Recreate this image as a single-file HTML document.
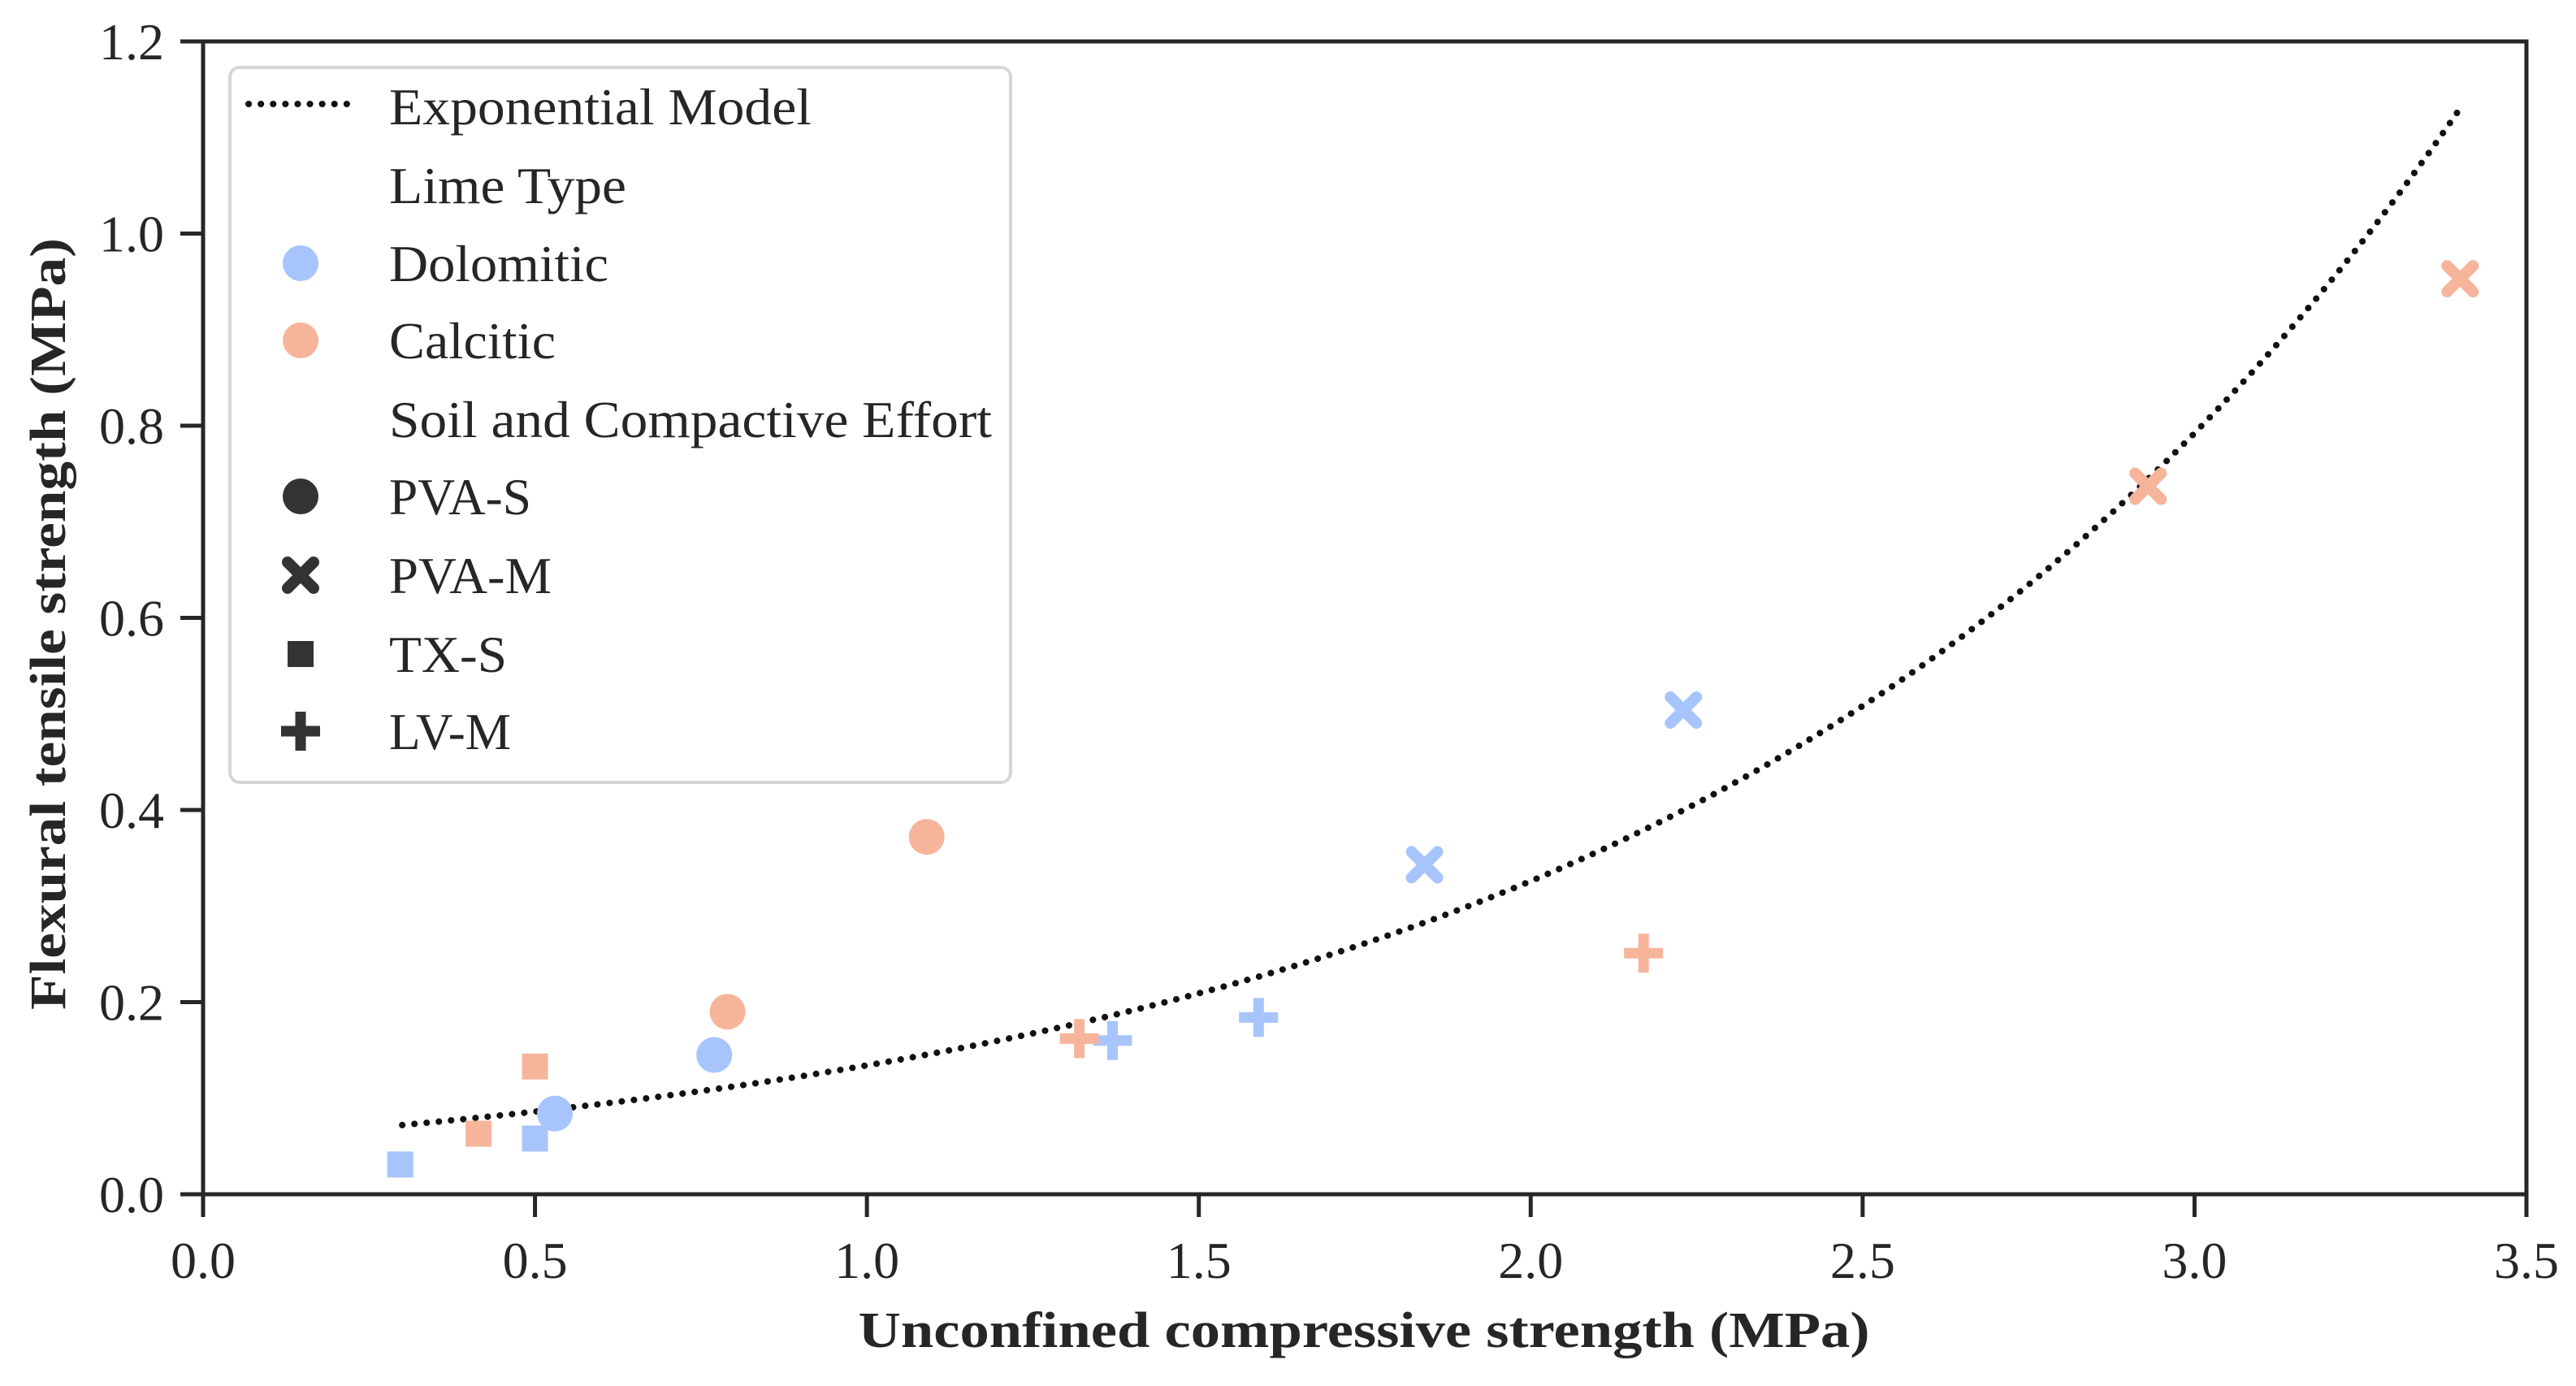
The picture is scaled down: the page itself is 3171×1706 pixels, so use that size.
<!DOCTYPE html>
<html><head><meta charset="utf-8"><style>
html,body{margin:0;padding:0;background:#fff;}
svg{display:block;font-family:"Liberation Serif",serif;}
</style></head><body>
<svg id="chart" width="3171" height="1706" viewBox="0 0 3171 1706">
<g id="plot"></g>
</svg>
<script>
const xTicks = [0.0,0.5,1.0,1.5,2.0,2.5,3.0,3.5];
const xTickLabels = ["0.0","0.5","1.0","1.5","2.0","2.5","3.0","3.5"];
const yTicks = [0.0,0.2,0.4,0.6,0.8,1.0,1.2];
const yTickLabels = ["0.0","0.2","0.4","0.6","0.8","1.0","1.2"];
const pointX = [0.297,0.50,0.53,0.77,1.37,1.59,1.84,2.23, 0.415,0.50,0.79,1.09,1.32,2.17,2.93,3.40];
const pointY = [0.031,0.058,0.084,0.145,0.160,0.184,0.343,0.504, 0.063,0.133,0.190,0.372,0.162,0.251,0.737,0.953];
const pointLime = ["Dolomitic","Dolomitic","Dolomitic","Dolomitic","Dolomitic","Dolomitic","Dolomitic","Dolomitic","Calcitic","Calcitic","Calcitic","Calcitic","Calcitic","Calcitic","Calcitic","Calcitic"];
const pointSoil = ["TX-S","TX-S","PVA-S","PVA-S","LV-M","LV-M","PVA-M","PVA-M","TX-S","TX-S","PVA-S","PVA-S","LV-M","LV-M","PVA-M","PVA-M"];
const modelA = [0.0552];
const modelB = [0.888];
const modelRange = [0.3,3.4];

const L=250,R=3110,T=51,B=1470;
const sx=v=>L+(v-0)/(3.5-0)*(R-L);
const sy=v=>B-(v-0)/(1.2-0)*(B-T);
const NS="http://www.w3.org/2000/svg";
const svg=document.getElementById('chart');
const plot=document.getElementById('plot');
const colors={Dolomitic:"#a7c5fc",Calcitic:"#f6b59a"};
function mk(tag,attrs,parent){const e=document.createElementNS(NS,tag);for(const k in attrs)e.setAttribute(k,attrs[k]);(parent||svg).appendChild(e);return e;}

let d="";
for(let i=0;i<=200;i++){const x=modelRange[0]+(modelRange[1]-modelRange[0])*i/200;const y=modelA[0]*Math.exp(modelB[0]*x);d+=(i?"L":"M")+sx(x).toFixed(1)+","+sy(y).toFixed(1);}
const curve=mk('path',{d:d,fill:"none",stroke:"#111","stroke-width":8,"stroke-dasharray":"0.1 15","stroke-linecap":"round"},plot);



function marker(shape,cx,cy,color,parent){
  let e;
  if(shape==="PVA-S"){e=mk('circle',{cx:cx,cy:cy,r:22,fill:color},parent);}
  else if(shape==="TX-S"){e=mk('rect',{x:cx-16,y:cy-16,width:32,height:32,fill:color},parent);}
  else if(shape==="LV-M"){e=mk('path',{d:`M${cx-24},${cy}H${cx+24}M${cx},${cy-24}V${cy+24}`,stroke:color,"stroke-width":13,fill:"none"},parent);}
  else {e=mk('path',{d:`M${cx-16},${cy-16}L${cx+16},${cy+16}M${cx+16},${cy-16}L${cx-16},${cy+16}`,stroke:color,"stroke-width":14,"stroke-linecap":"round",fill:"none"},parent);}
  return e;
}
for(let i=0;i<pointX.length;i++){
  const m=marker(pointSoil[i],sx(pointX[i]),sy(pointY[i]),colors[pointLime[i]],plot);
  
  
}

const frame=mk('rect',{x:L,y:T,width:R-L,height:B-T,fill:"none",stroke:"#262626","stroke-width":5});



xTicks.forEach((v,i)=>{
  const t=mk('line',{x1:sx(v),x2:sx(v),y1:B,y2:B+28,stroke:"#262626","stroke-width":5});
  
  
  const lb=mk('text',{x:sx(v),y:1573,"text-anchor":"middle","font-size":64,fill:"#262626"});
  lb.textContent=xTickLabels[i];
  
  
});
yTicks.forEach((v,i)=>{
  const t=mk('line',{x1:L-28,x2:L,y1:sy(v),y2:sy(v),stroke:"#262626","stroke-width":5});
  
  
  const lb=mk('text',{x:202,y:sy(v)+22,"text-anchor":"end","font-size":64,fill:"#262626"});
  lb.textContent=yTickLabels[i];
  
  
});

const xt=mk('text',{x:1679,y:1658,"text-anchor":"middle","font-size":62,"font-weight":"bold",fill:"#262626",textLength:1245,lengthAdjust:"spacingAndGlyphs"});
xt.textContent="Unconfined compressive strength (MPa)";


const yt=mk('text',{x:0,y:0,"text-anchor":"middle","font-size":62,"font-weight":"bold",fill:"#262626",textLength:950,lengthAdjust:"spacingAndGlyphs",transform:"translate(80,768) rotate(-90)"});
yt.textContent="Flexural tensile strength (MPa)";



const lg=mk('g',{});


mk('rect',{x:283,y:83,width:961,height:880,rx:12,fill:"#fff",stroke:"#d6d6d6","stroke-width":4},lg);
const rows=[131,228,324,419,516,611,708,805,900];
const labels=["Exponential Model","Lime Type","Dolomitic","Calcitic","Soil and Compactive Effort","PVA-S","PVA-M","TX-S","LV-M"];
const widths=[520,292,270,205,742,175,200,145,150];
labels.forEach((s,i)=>{
  const tx=mk('text',{x:479,y:rows[i]+22,"font-size":64,fill:"#262626",textLength:widths[i],lengthAdjust:"spacingAndGlyphs"},lg);
  tx.textContent=s;
  
  
});
mk('path',{d:`M306,${rows[0]-3}H433`,stroke:"#111","stroke-width":8,"stroke-dasharray":"0.1 15","stroke-linecap":"round"},lg);
mk('circle',{cx:370,cy:rows[2],r:22,fill:colors.Dolomitic},lg);
mk('circle',{cx:370,cy:rows[3],r:22,fill:colors.Calcitic},lg);
marker("PVA-S",370,rows[5],"#333",lg);
marker("PVA-M",370,rows[6],"#333",lg);
marker("TX-S",370,rows[7],"#333",lg);
marker("LV-M",370,rows[8],"#333",lg);
</script>
</body></html>
